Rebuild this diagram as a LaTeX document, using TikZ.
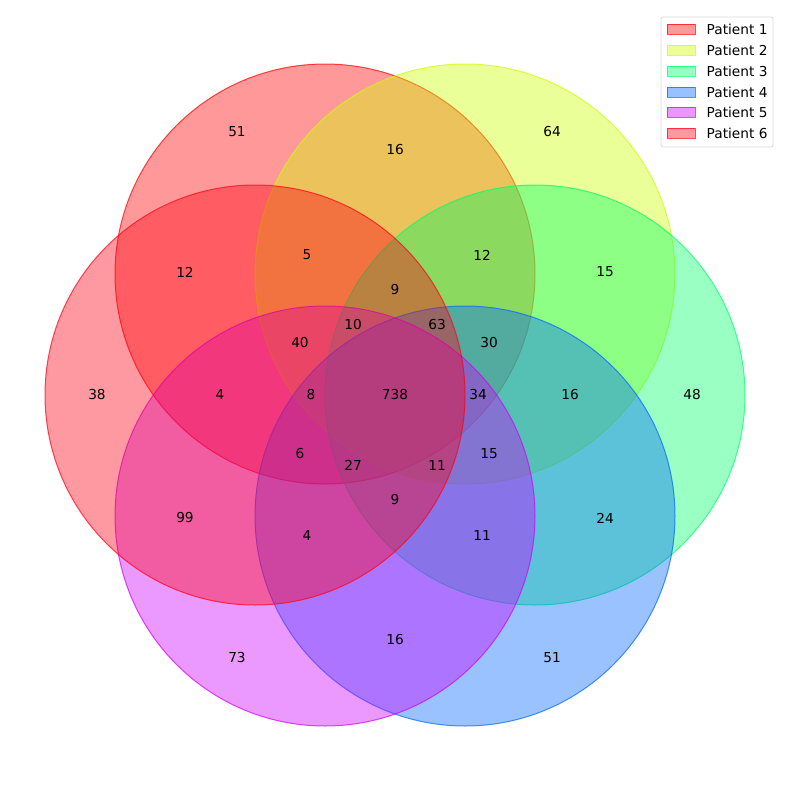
\documentclass[tikz,border=0pt]{standalone}
\usepackage{fontspec}
\setmainfont{DejaVu Sans}
\usetikzlibrary{positioning}

\definecolor{pone}{rgb}{1,0,0}
\definecolor{ptwo}{rgb}{0.8,1,0}
\definecolor{pthree}{rgb}{0,1,0.4}
\definecolor{pfour}{rgb}{0,0.4,1}
\definecolor{pfive}{rgb}{0.8,0,1}
\definecolor{psix}{rgb}{1,0,0.08}

\begin{document}
\begin{tikzpicture}[
    x=1pt, y=-1pt,
    patient/.style={circle, minimum size=420pt, inner sep=0pt, fill opacity=0.4, draw opacity=0.7, line width=1pt},
    count/.style={font=\fontsize{13.7}{14}\selectfont, inner sep=0pt},
    legendbox/.style={rectangle, rounded corners=2pt, draw=black!15, fill=white, fill opacity=0.8, line width=0.8pt},
    swatch/.style={rectangle, minimum width=28pt, minimum height=10pt, inner sep=0pt, fill opacity=0.4, draw opacity=0.7, line width=1pt},
    entry/.style={font=\fontsize{13.7}{14}\selectfont, inner sep=0pt, anchor=west}
]
\useasboundingbox (0,0) rectangle (790,790);

% Circles
\node[patient, fill=pone, draw=pone] (p1) at (325,274) {};
\node[patient, fill=ptwo, draw=ptwo] (p2) at (465,274) {};
\node[patient, fill=pthree, draw=pthree] (p3) at (535,395) {};
\node[patient, fill=pfour, draw=pfour] (p4) at (465,516) {};
\node[patient, fill=pfive, draw=pfive] (p5) at (325,516) {};
\node[patient, fill=psix, draw=psix] (p6) at (255,395) {};

% Counts
\foreach \x/\y/\v [count=\i] in {
    237/132/51, 395/150/16, 552/132/64,
    185/272/12, 307/255/5, 482/255/12, 605/272/15,
    395/290/9, 353/325/10, 437/325/63, 300/343/40, 489/343/30,
    97/395/38, 220/395/4, 311/395/8, 395/395/738, 478/395/34, 570/395/16, 692/395/48,
    300/454/6, 489/454/15, 353/465/27, 437/465/11, 395/500/9,
    185/518/99, 307/535/4, 482/535/11, 605/518/24,
    237/658/73, 395/640/16, 552/658/51}
    \node[count] (n\i) at (\x,\y) {\v};

% Legend
\node[legendbox, minimum width=112pt, minimum height=130pt] (legend) at (717,82) {};
\foreach \c/\y [count=\i] in {pone/29, ptwo/50, pthree/71, pfour/92, pfive/112, psix/133} {
    \node[swatch, fill=\c, draw=\c] (sw\i) at (681,\y) {};
    \node[entry, right=11pt of sw\i] (lab\i) {Patient \i};
}

\end{tikzpicture}
\end{document}
